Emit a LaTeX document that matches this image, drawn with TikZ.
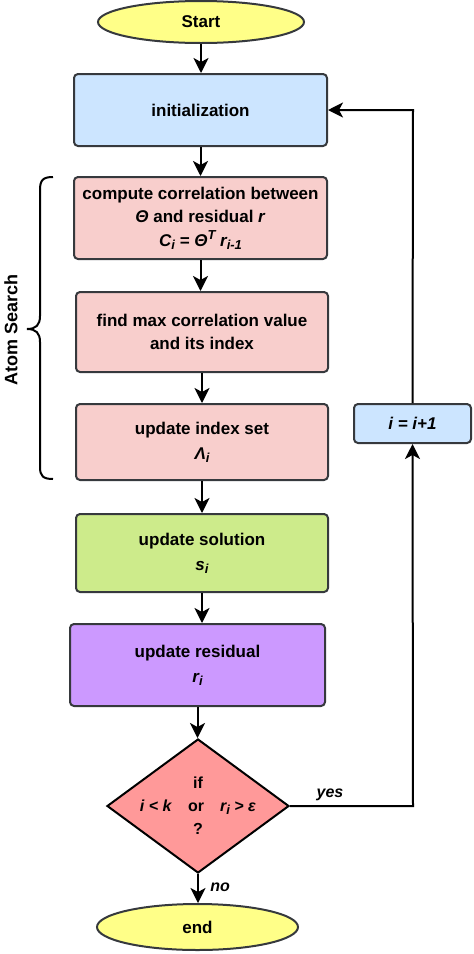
\documentclass[tikz,border=0pt]{standalone}
\usepackage{fontspec}
\setmainfont{Liberation Sans}
\usetikzlibrary{shapes.geometric,arrows.meta,calc}
\definecolor{cyel}{HTML}{FFFF88}
\definecolor{cblue}{HTML}{CCE5FF}
\definecolor{cpink}{HTML}{F8CECC}
\definecolor{cgreen}{HTML}{CDEB8B}
\definecolor{cpurple}{HTML}{CC99FF}
\definecolor{cred}{HTML}{FF9999}
\definecolor{cstroke}{HTML}{36393D}
\newcommand{\mysb}[1]{\raisebox{-0.35ex}{\fontsize{13}{13}\selectfont #1}}
\newcommand{\mysp}[1]{\raisebox{0.75ex}{\fontsize{13}{13}\selectfont #1}}
\tikzset{
  base/.style={draw=cstroke, line width=2pt, font=\fontsize{17}{23}\selectfont\bfseries, align=center, inner sep=0pt},
  box/.style={base, rectangle, rounded corners=4pt},
  term/.style={base, ellipse, fill=cyel},
  arr/.style={line width=2pt, -{Stealth[length=15pt,width=15pt,inset=4pt]}},
  lbl/.style={font=\fontsize{16}{20}\selectfont\bfseries\itshape},
}
\begin{document}
\begin{tikzpicture}[x=1pt,y=-1pt]
\useasboundingbox (0,0) rectangle (474,954);
\node[term, minimum width=206pt, minimum height=42pt] (start) at (201,22) {Start};
\node[box, fill=cblue, minimum width=253pt, minimum height=72pt] (init) at (200.5,110) {initialization};
\node[box, fill=cpink, minimum width=253pt, minimum height=82pt] (comp) at (200.5,218)
  {compute correlation between\\ \textit{Θ} and residual \textit{r}\\[1pt] \textit{C\mysb{i} = Θ\mysp{T} r\mysb{i-1}}};
\node[box, fill=cpink, minimum width=252pt, minimum height=80pt] (find) at (202,332) {find max correlation value\\ and its index};
\node[box, fill=cpink, minimum width=252pt, minimum height=76pt] (index) at (202,442) {update index set\\[2pt] \textit{Λ\mysb{i}}};
\node[box, fill=cgreen, minimum width=252pt, minimum height=78pt] (sol) at (202,553) {update solution\\[2pt] \textit{s\mysb{i}}};
\node[box, fill=cpurple, minimum width=255pt, minimum height=82pt] (res) at (197.5,665) {update residual\\[2pt] \textit{r\mysb{i}}};
\node[base, diamond, draw=black, fill=cred, minimum width=182pt, minimum height=134pt] (dec) at (198,806) {};
\node[font=\fontsize{16}{23}\selectfont\bfseries, align=center] (dectext) at (dec.center)
  {if\\ \textit{i < k}\quad or\quad \textit{r\mysb{i} > ε}\\ ?};
\node[term, minimum width=201pt, minimum height=46pt] (end) at (197.5,927) {end};
\node[box, fill=cblue, minimum width=117pt, minimum height=39pt] (inc) at (412.5,423.5) {\textit{i = i+1}};
\coordinate (cr) at (413,806);
\coordinate (ct) at (413,110);
\draw[arr] (start.south) -- (start.south |- init.north);
\draw[arr] (init.south) -- (init.south |- comp.north);
\draw[arr] (comp.south) -- (comp.south |- find.north);
\draw[arr] (find.south) -- (find.south |- index.north);
\draw[arr] (index.south) -- (index.south |- sol.north);
\draw[arr] (sol.south) -- (sol.south |- res.north);
\draw[arr] (res.south) -- (res.south |- dec.north);
\draw[arr] (dec.south) -- (dec.south |- end.north) node[lbl, pos=0.45, right=8pt] (nolbl) {no};
\draw[arr] (dec.east) -- (cr) -- (inc.south);
\node[lbl] (yeslbl) at (330,795) {yes};
\draw[arr] (inc.north) -- (ct) -- (init.east);
\draw[line width=2pt] (53,177) .. controls (43,177) and (40,180) .. (40,190) -- (40,316)
  .. controls (40,325) and (36,329) .. (27,329) .. controls (36,329) and (40,333) .. (40,342)
  -- (40,467) .. controls (40,476) and (43,479) .. (53,479);
\node[rotate=90, font=\fontsize{18}{22}\selectfont\bfseries] (atom) at (11,330) {Atom Search};
\end{tikzpicture}
\end{document}
